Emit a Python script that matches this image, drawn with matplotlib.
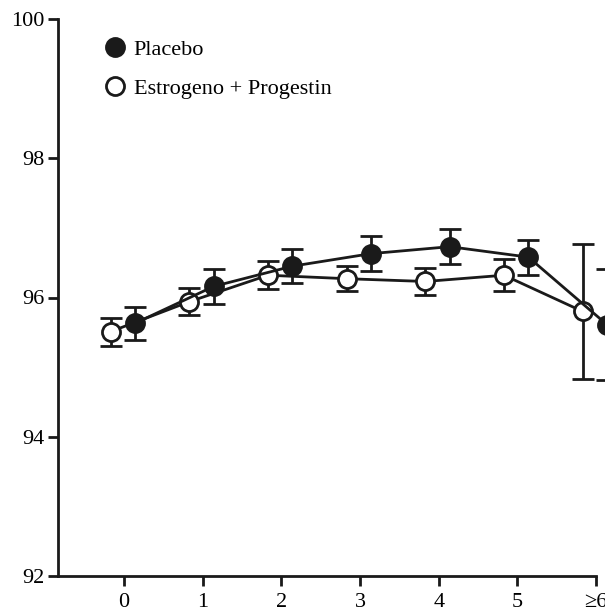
import numpy as np
import matplotlib
matplotlib.use("Agg")
import matplotlib.pyplot as plt
from matplotlib.lines import Line2D

plt.rcParams["font.family"] = ["Liberation Serif", "DejaVu Serif"]

categories = ["0", "1", "2", "3", "4", "5", "\u22656"]
placebo = [95.63, 96.16, 96.45, 96.63, 96.73, 96.58, 95.61]
placebo_err = [0.24, 0.25, 0.24, 0.25, 0.25, 0.25, 0.80]
estro = [95.51, 95.94, 96.32, 96.27, 96.23, 96.32, 95.80]
estro_err = [0.20, 0.19, 0.20, 0.18, 0.19, 0.23, 0.97]

x = np.arange(len(categories))
c = "#1a1a1a"

fig = plt.figure(figsize=(6.05, 6.13), dpi=100)
ax = fig.add_axes([58/605, 1-576/613, (596-58)/605, (576-19)/613])

# open markers (estrogen + progestin)
ax.errorbar(x - 0.17, estro, yerr=estro_err, color=c, lw=2, elinewidth=2,
            capsize=8, capthick=2, marker="o", ms=13, mfc="white", mec=c,
            mew=2, clip_on=False, zorder=3)
# filled markers (placebo)
ax.errorbar(x + 0.14, placebo, yerr=placebo_err, color=c, lw=2, elinewidth=2,
            capsize=8, capthick=2, marker="o", ms=13, mfc=c, mec=c,
            mew=2, clip_on=False, zorder=4)

ax.set_xlim(-0.84, 6)
ax.set_ylim(92, 100)
ax.set_yticks([92, 94, 96, 98, 100])
ax.set_xticks(x)
ax.set_xticklabels(categories)
ax.spines["top"].set_visible(False)
ax.spines["right"].set_visible(False)
for s in ["left", "bottom"]:
    ax.spines[s].set_linewidth(2)
    ax.spines[s].set_color(c)
ax.tick_params(width=2, length=7, color=c, labelsize=16, pad=3)
ax.tick_params(axis="x", pad=5.5)

handles = [
    Line2D([], [], ls="none", marker="o", ms=13, mfc=c, mec=c, mew=2),
    Line2D([], [], ls="none", marker="o", ms=13, mfc="white", mec=c, mew=2),
]
ax.legend(handles, ["Placebo", "Estrogeno + Progestin"], loc="upper left",
          bbox_to_anchor=(0.052, 1.0), frameon=False, fontsize=16,
          handlelength=0.8, handletextpad=0.45, labelspacing=0.85)

fig.savefig("out.png", dpi=100)
